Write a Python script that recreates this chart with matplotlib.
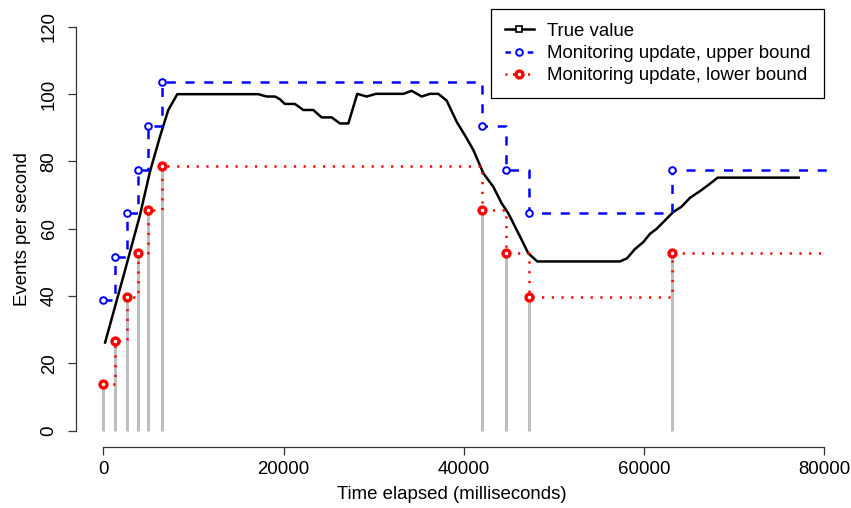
import matplotlib
matplotlib.use("Agg")
import matplotlib.pyplot as plt
from matplotlib.lines import Line2D

plt.rcParams['font.family'] = ['Liberation Sans', 'DejaVu Sans']
plt.rcParams['lines.scale_dashes'] = False

# ---- data ----
true_time = [200, 2220, 4070, 5180, 6290, 7210, 8210, 17200, 18130, 19050, 19600,
             20140, 21250, 22200, 23300, 24230, 25340, 26260, 27190, 28180, 29220,
             30260, 33300, 34220, 35330, 36250, 37170, 38100, 39210, 40320, 41060,
             42170, 43270, 44200, 44940, 46240, 47160, 48160, 57330, 58100, 59000,
             59900, 60660, 61400, 62140, 63250, 64180, 65100, 66210, 67130, 68170, 77160]
true_value = [26.2, 45.8, 64.1, 77.0, 87.4, 95.3, 100.0, 100.0, 99.3, 99.3, 98.5,
              97.1, 97.1, 95.3, 95.3, 93.1, 93.1, 91.3, 91.3, 100.1, 99.3,
              100.1, 100.1, 101.0, 99.3, 100.1, 100.1, 98.1, 91.8, 86.9, 83.4,
              76.5, 72.5, 67.6, 64.6, 57.7, 52.7, 50.3, 50.3, 51.2, 54.0,
              56.0, 58.5, 60.0, 62.0, 65.0, 66.6, 69.2, 71.2, 73.0, 75.2, 75.2]

update_time = [0, 1300, 2600, 3900, 5000, 6500, 42000, 44650, 47200, 63150]
upper_bound = [38.8, 51.7, 64.6, 77.6, 90.5, 103.5, 90.5, 77.6, 64.6, 77.6]
lower_bound = [13.8, 26.8, 39.7, 52.7, 65.6, 78.6, 65.6, 52.7, 39.7, 52.7]
step_end = 82000

x_ticks = [0, 20000, 40000, 60000, 80000]
y_ticks = [0, 20, 40, 60, 80, 100, 120]
x_label = "Time elapsed (milliseconds)"
y_label = "Events per second"
legend_labels = ["True value", "Monitoring update, upper bound",
                 "Monitoring update, lower bound"]

# ---- figure ----
W, H = 851, 508
fig = plt.figure(figsize=(W / 100, H / 100), dpi=100)
left_px, right_px, top_px, bottom_px = 75.5, 828.0, 10.7, 446.9
ax = fig.add_axes([left_px / W, 1 - bottom_px / H,
                   (right_px - left_px) / W, (bottom_px - top_px) / H])
ax.set_xlim(-3085, 80414)
ax.set_ylim(-4.8, 124.8)

fs = 13.4
gray = "#BEBEBE"

# grey vertical lines at update times
ax.vlines(update_time, 0, lower_bound, colors=gray, linewidth=2.2, zorder=1)

# true value
ax.plot(true_time, true_value, color="black", linewidth=1.8, zorder=2)

# upper bound (step)
ux = update_time + [step_end]
uy = upper_bound + [upper_bound[-1]]
ax.plot(ux, uy, drawstyle="steps-post", color="#0000FF", linewidth=1.8,
        dashes=(6.5, 7.0), zorder=3)
ax.plot(update_time, upper_bound, linestyle="none", marker="o", markersize=4.8,
        markerfacecolor="white", markeredgecolor="#0000FF", markeredgewidth=1.4, zorder=4)

# lower bound (step)
ly = lower_bound + [lower_bound[-1]]
ax.plot(ux, ly, drawstyle="steps-post", color="#FF0000", linewidth=1.8,
        dashes=(1.6, 5.4), zorder=3)
ax.plot(update_time, lower_bound, linestyle="none", marker="o", markersize=5,
        markerfacecolor="white", markeredgecolor="#FF0000", markeredgewidth=2.4, zorder=4)

# axes styling (R-like)
for s in ["top", "right"]:
    ax.spines[s].set_visible(False)
ax.spines["left"].set_bounds(0, 120)
ax.spines["bottom"].set_bounds(0, 80000)
for s in ["left", "bottom"]:
    ax.spines[s].set_color("#333333")
    ax.spines[s].set_linewidth(0.9)
ax.set_xticks(x_ticks)
ax.set_xticklabels([str(v) for v in x_ticks])
ax.set_yticks(y_ticks)
ax.set_yticklabels([str(v) for v in y_ticks], rotation=90, va="center")
ax.tick_params(axis="both", length=5.8, width=0.9, color="#333333", labelsize=fs)
ax.tick_params(axis="x", pad=4)
ax.tick_params(axis="y", pad=7)
ax.set_xlabel(x_label, fontsize=fs, labelpad=6)
ax.set_ylabel(y_label, fontsize=fs, labelpad=7)

# legend
handles = [
    Line2D([], [], color="black", linewidth=1.8, marker="s", markersize=5,
           markerfacecolor="white", markeredgecolor="black", markeredgewidth=1.2),
    Line2D([], [], color="#0000FF", linewidth=1.8, dashes=(4.0, 4.0), marker="o",
           markersize=4.8, markerfacecolor="white", markeredgecolor="#0000FF",
           markeredgewidth=1.4),
    Line2D([], [], color="#FF0000", linewidth=1.8, dashes=(1.4, 4.0), marker="o",
           markersize=5, markerfacecolor="white", markeredgecolor="#FF0000",
           markeredgewidth=2.4),
]
leg = ax.legend(handles, legend_labels, loc="upper right",
                bbox_to_anchor=(80000, 125.3), bbox_transform=ax.transData,
                fontsize=fs, frameon=True, fancybox=False, framealpha=1,
                edgecolor="black", borderpad=0.75, labelspacing=0.28,
                handlelength=1.55, handletextpad=0.7, borderaxespad=0)
leg.get_frame().set_linewidth(0.9)

fig.savefig("out.png", dpi=100)
